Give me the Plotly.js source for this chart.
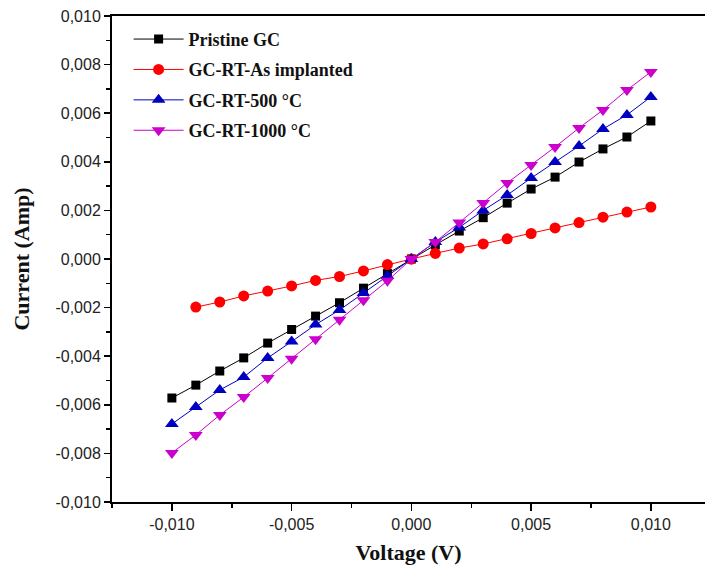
<!DOCTYPE html>
<html>
<head>
<meta charset="utf-8">
<script src="https://cdn.plot.ly/plotly-3.0.1.min.js"></script>
<style>html,body{margin:0;padding:0;background:#fff;}#chart{width:705px;height:571px;}</style>
</head>
<body>
<div id="chart"></div>
<script>
const voltage = [-0.010,-0.009,-0.008,-0.007,-0.006,-0.005,-0.004,-0.003,-0.002,-0.001,0.000,0.001,0.002,0.003,0.004,0.005,0.006,0.007,0.008,0.009,0.010];
const voltageRed = [-0.009,-0.008,-0.007,-0.006,-0.005,-0.004,-0.003,-0.002,-0.001,0.000,0.001,0.002,0.003,0.004,0.005,0.006,0.007,0.008,0.009,0.010];
const pristine = [-0.00572,-0.00519,-0.00461,-0.00407,-0.00346,-0.0029,-0.00235,-0.0018,-0.0012,-0.0006,0,0.00058,0.00115,0.0017,0.0023,0.00288,0.00337,0.00399,0.00453,0.00502,0.00568];
const asImplanted = [-0.00198,-0.00177,-0.00152,-0.00132,-0.00111,-0.00088,-0.00072,-0.00049,-0.00023,0,0.00023,0.00045,0.00062,0.00083,0.00105,0.00128,0.0015,0.00172,0.00193,0.00214];
const rt500 = [-0.00679,-0.00609,-0.00539,-0.00486,-0.00407,-0.0034,-0.0027,-0.0021,-0.0014,-0.0007,0,0.0007,0.0013,0.002,0.00263,0.00333,0.00399,0.00465,0.00535,0.00593,0.00667];
const rt1000 = [-0.00798,-0.00724,-0.00642,-0.00568,-0.0049,-0.0041,-0.0033,-0.0025,-0.0017,-0.0009,0,0.0007,0.0015,0.0023,0.00313,0.00387,0.00461,0.00539,0.00613,0.00695,0.0077];
const seriesNames = ["Pristine GC","GC-RT-As implanted","GC-RT-500 °C","GC-RT-1000 °C"];
const xTickVals = [-0.010,-0.005,0.000,0.005,0.010];
const yTickVals = [-0.010,-0.008,-0.006,-0.004,-0.002,0.000,0.002,0.004,0.006,0.008,0.010];
const fmt = v => v.toFixed(3).replace('.', ',').replace(/^-0,000$/, '0,000');
const xTickText = xTickVals.map(fmt);
const yTickText = yTickVals.map(fmt);

function tr(x,y,name,color,symbol,size,g){
  return {x:x,y:y,name:name,type:'scatter',mode:'lines+markers',legendgroup:g,
    line:{color:color,width:1},marker:{color:color,symbol:symbol,size:size,line:{width:0}}};
}
const data = [
  tr(voltage,pristine,seriesNames[0],'#000000','square',9,'a'),
  tr(voltageRed,asImplanted,seriesNames[1],'#ff0000','circle',11,'b'),
  tr(voltage,rt500,seriesNames[2],'#0000c0','triangle-up',12,'c'),
  tr(voltage,rt1000,seriesNames[3],'#cc00cc','triangle-down',12,'d')
];
const tickFont = {family:'"Liberation Sans", Arial, sans-serif',size:16,color:'#222'};
const titleFont = {family:'"Liberation Serif", "Times New Roman", serif',size:22,color:'#111',weight:'bold'};
const layout = {
  width:705,height:571,
  margin:{l:112,r:0,t:16,b:69},
  paper_bgcolor:'#fff',plot_bgcolor:'#fff',
  showlegend:true,
  legend:{x:0.028,y:0.99,xanchor:'left',yanchor:'top',bgcolor:'rgba(0,0,0,0)',
    font:{family:'"Liberation Serif", "Times New Roman", serif',size:18,color:'#111',weight:'bold'},
    tracegroupgap:4,itemwidth:50},
  xaxis:{range:[-0.0125,0.01226],tickvals:xTickVals,ticktext:xTickText,showgrid:false,zeroline:false,
    showline:true,linecolor:'#000',linewidth:2,mirror:true,ticks:'outside',ticklen:7,tickwidth:1.5,tickcolor:'#000',
    minor:{dtick:0.0025,tick0:0,ticks:'outside',ticklen:4,tickwidth:1.5,tickcolor:'#000'},
    tickfont:tickFont,title:{text:'Voltage (V)',font:titleFont,standoff:12}},
  yaxis:{range:[-0.010,0.010],tickvals:yTickVals,ticktext:yTickText,showgrid:false,zeroline:false,
    showline:true,linecolor:'#000',linewidth:2,mirror:false,ticks:'outside',ticklen:6,tickwidth:1.5,tickcolor:'#000',
    minor:{dtick:0.001,tick0:0,ticks:'outside',ticklen:4,tickwidth:1.5,tickcolor:'#000'},
    tickfont:tickFont,title:{text:'Current (Amp)',font:titleFont,standoff:20}}
};
Plotly.newPlot('chart',data,layout,{displayModeBar:false,staticPlot:true});
</script>
</body>
</html>
